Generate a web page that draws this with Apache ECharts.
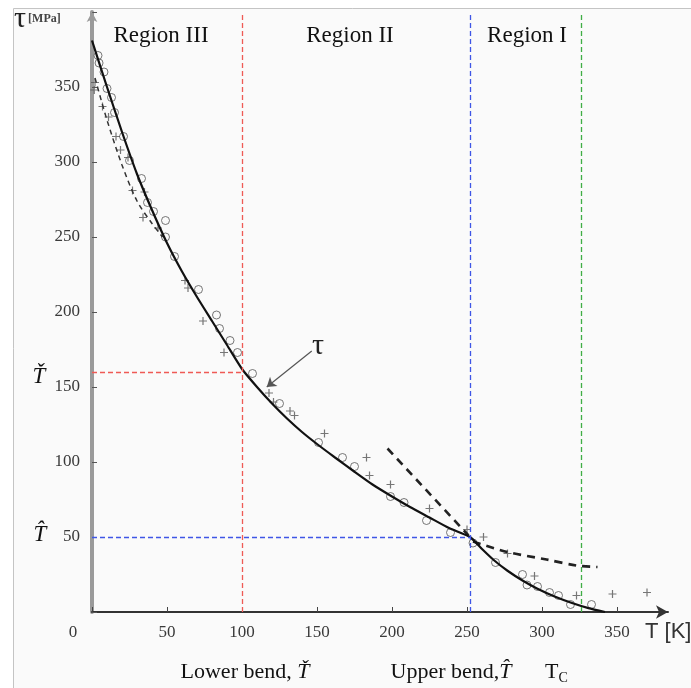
<!DOCTYPE html>
<html>
<head>
<meta charset="utf-8">
<script src="https://cdn.jsdelivr.net/npm/echarts@6.0.0/dist/echarts.min.js"></script>
<style>
  html, body { margin: 0; padding: 0; background: #fff; }
  #root { width: 691px; height: 688px; }
</style>
</head>
<body>
<div id="root"></div>
<script>
// measured points [T (K), tau (MPa)]
const circles = [
  [4, 371], [4.7, 366], [8, 360], [10, 349], [13, 343], [15, 333], [21, 317], [25, 301],
  [33, 289], [37, 273], [41, 267], [49, 261], [49, 250], [55, 237], [71, 215], [83, 198],
  [85, 189], [92, 181], [97, 173], [107, 159], [125, 139], [151, 113], [167, 103], [175, 97],
  [199, 77], [208, 73], [223, 61], [239, 53], [254, 46], [269, 33], [287, 25], [290, 18],
  [297, 17], [305, 13], [311, 11], [319, 5], [333, 5]
];
const crosses = [
  [2, 353], [1.5, 348], [7, 337], [11, 330], [16, 317], [19, 308], [24, 303], [27, 281],
  [35, 280], [34, 263], [44, 256], [62, 221], [64, 216], [74, 194], [88, 173], [118, 146],
  [121, 140], [132, 134], [135, 131], [155, 119], [183, 103], [185, 91], [199, 85], [225, 69],
  [250, 55], [261, 50], [277, 39], [295, 24], [323, 11], [347, 12], [370, 13]
];

// model curve (solid) and the two-region approximations (dashed)
const fitCurve = [
  [0, 381], [10, 350], [20, 320], [30, 292], [40, 268], [50, 246], [60, 227], [70, 210],
  [80, 194], [90, 178], [100, 162], [110, 150], [120, 139], [130, 129], [140, 120],
  [150, 112], [162, 103], [175, 93.5], [187, 85], [200, 77], [212, 70], [225, 63],
  [238, 56], [252, 50], [260, 42], [268, 34.5], [277, 27.5], [287, 21], [297, 15.5],
  [308, 10.5], [320, 6], [331, 2.6], [342, 0]
];
const dashLow = [[2, 356], [10, 328], [20, 298], [30, 274], [40, 259], [47, 250]];
const dashMid = [[197, 109], [251, 51]];
const dashHigh = [[254, 47], [277, 40], [303, 35], [323, 31], [337, 30]];

// bends and critical temperature
const lowerBend = [100, 160];
const upperBend = [252, 50];
const tCritical = 326;
const tauArrow = [[146.5, 174], [116.5, 150]];

const xMax = 384;
const yMax = 400;

const serif = '"Liberation Serif", "DejaVu Serif", serif';
const red = '#ef5a55';
const blue = '#3f56e6';
const green = '#3fae45';

let myChart = echarts.init(document.getElementById('root'));

function vLine(x, color) {
  return [{ coord: [x, 0], lineStyle: { color: color } }, { coord: [x, yMax] }];
}
function hLine(pt, color) {
  return [{ coord: [0, pt[1]], lineStyle: { color: color } }, { coord: [pt[0], pt[1]] }];
}

let option = {
  backgroundColor: '#fff',
  animation: false,
  grid: { left: 92, right: 23, top: 12, bottom: 76, outerBoundsMode: 'none' },
  xAxis: {
    type: 'value',
    min: 0,
    max: xMax,
    interval: 50,
    splitLine: { show: false },
    axisLine: {
      onZero: false,
      symbol: ['none', 'arrow'],
      symbolSize: [10, 12],
      lineStyle: { color: '#333', width: 2 }
    },
    axisTick: { inside: true, length: 5, lineStyle: { color: '#444' } },
    axisLabel: {
      margin: 12,
      showMaxLabel: false,
      color: '#3a3a3a',
      fontFamily: serif,
      fontSize: 17,
      formatter: function (v) {
        if (v > 350) return '';
        return v === 0 ? '{z|0}' : String(v);
      },
      rich: { z: { padding: [0, 38, 0, 0], fontFamily: serif, fontSize: 17, color: '#3a3a3a' } }
    }
  },
  yAxis: {
    type: 'value',
    min: 0,
    max: yMax,
    interval: 50,
    splitLine: { show: false },
    axisLine: {
      onZero: false,
      symbol: ['none', 'arrow'],
      symbolSize: [8, 10],
      lineStyle: { color: '#9a9a9a', width: 4 }
    },
    axisTick: { inside: true, length: 5, lineStyle: { color: '#555' } },
    axisLabel: {
      margin: 12,
      color: '#3a3a3a',
      fontFamily: serif,
      fontSize: 17,
      formatter: function (v) {
        return (v === 0 || v > 350) ? '' : String(v);
      }
    }
  },
  graphic: [
    {
      type: 'rect', z: -10, silent: true,
      shape: { x: 13.5, y: 8.5, width: 700, height: 700 },
      style: { fill: '#fafafa', stroke: '#c4c4c4', lineWidth: 1 }
    },
    { type: 'text', x: 161, y: 36, style: { text: 'Region III', font: '23px ' + serif, fill: '#111', align: 'center', verticalAlign: 'middle' } },
    { type: 'text', x: 350, y: 36, style: { text: 'Region II', font: '23px ' + serif, fill: '#111', align: 'center', verticalAlign: 'middle' } },
    { type: 'text', x: 527, y: 36, style: { text: 'Region I', font: '23px ' + serif, fill: '#111', align: 'center', verticalAlign: 'middle' } },
    {
      type: 'text', x: 14, y: 19,
      style: {
        text: '{t|τ}{u|[MPa]}', align: 'left', verticalAlign: 'middle',
        rich: {
          t: { fontFamily: serif, fontSize: 30, fill: '#222', padding: [0, 2, 0, 0] },
          u: { fontFamily: serif, fontSize: 12, fontWeight: 'bold', fill: '#444' }
        }
      }
    },
    { type: 'text', x: 645, y: 632, style: { text: 'T [K]', font: '22px "Liberation Sans", Arial, sans-serif', fill: '#333', align: 'left', verticalAlign: 'middle' } },
    { type: 'text', x: 39, y: 377, style: { text: 'Ť', font: 'italic 23px ' + serif, fill: '#111', align: 'center', verticalAlign: 'middle' } },
    { type: 'text', x: 40, y: 535, style: { text: 'T\u0302', font: 'italic 23px ' + serif, fill: '#111', align: 'center', verticalAlign: 'middle' } },
    {
      type: 'text', x: 245, y: 672,
      style: {
        text: '{a|Lower bend, }{b|Ť}', align: 'center', verticalAlign: 'middle',
        rich: {
          a: { fontFamily: serif, fontSize: 22, fill: '#111' },
          b: { fontFamily: serif, fontSize: 22, fontStyle: 'italic', fill: '#111' }
        }
      }
    },
    {
      type: 'text', x: 451, y: 672,
      style: {
        text: '{a|Upper bend,}{b|T\u0302}', align: 'center', verticalAlign: 'middle',
        rich: {
          a: { fontFamily: serif, fontSize: 22, fill: '#111' },
          b: { fontFamily: serif, fontSize: 22, fontStyle: 'italic', fill: '#111' }
        }
      }
    },
    {
      type: 'text', x: 545, y: 672,
      style: {
        text: '{a|T}{b|C}', align: 'left', verticalAlign: 'middle',
        rich: {
          a: { fontFamily: serif, fontSize: 22, fill: '#111' },
          b: { fontFamily: serif, fontSize: 14, fill: '#111', padding: [12, 0, 0, 0] }
        }
      }
    }
  ],
  series: [
    {
      name: 'guides',
      type: 'line',
      data: [],
      silent: true,
      markLine: {
        silent: true,
        animation: false,
        symbol: 'none',
        label: { show: false },
        lineStyle: { type: [5, 3], width: 1.3 },
        data: [
          vLine(lowerBend[0], red),
          hLine(lowerBend, red),
          vLine(upperBend[0], blue),
          hLine(upperBend, blue),
          vLine(tCritical, green)
        ]
      }
    },
    {
      name: 'low T approximation',
      type: 'line',
      data: dashLow,
      showSymbol: false,
      smooth: 0.3,
      lineStyle: { color: '#333', width: 1.5, type: [5, 4] }
    },
    {
      name: 'mid T approximation',
      type: 'line',
      data: dashMid,
      showSymbol: false,
      lineStyle: { color: '#222', width: 2.6, type: [8, 6] }
    },
    {
      name: 'high T approximation',
      type: 'line',
      data: dashHigh,
      showSymbol: false,
      smooth: 0.3,
      lineStyle: { color: '#222', width: 2.6, type: [8, 6] }
    },
    {
      name: 'circles',
      type: 'scatter',
      data: circles,
      symbol: 'circle',
      symbolSize: 8,
      itemStyle: { color: 'rgba(0,0,0,0)', borderColor: '#555', borderWidth: 1 }
    },
    {
      name: 'crosses',
      type: 'scatter',
      data: crosses,
      symbol: 'path://M5,0L5,10M0,5L10,5',
      symbolSize: 8,
      itemStyle: { color: 'rgba(0,0,0,0)', borderColor: '#555', borderWidth: 1.2 }
    },
    {
      name: 'tau',
      type: 'line',
      data: fitCurve,
      showSymbol: false,
      smooth: 0.2,
      lineStyle: { color: '#111', width: 2.2 },
      markLine: {
        silent: true,
        animation: false,
        symbol: ['none', 'arrow'],
        symbolSize: 9,
        lineStyle: { color: '#555', width: 1.2, type: 'solid' },
        label: {
          show: true,
          position: 'start',
          distance: 8,
          formatter: 'τ',
          fontFamily: serif,
          fontSize: 30,
          color: '#222'
        },
        data: [[{ coord: tauArrow[0] }, { coord: tauArrow[1] }]]
      }
    }
  ]
};

myChart.setOption(option);
</script>
</body>
</html>
